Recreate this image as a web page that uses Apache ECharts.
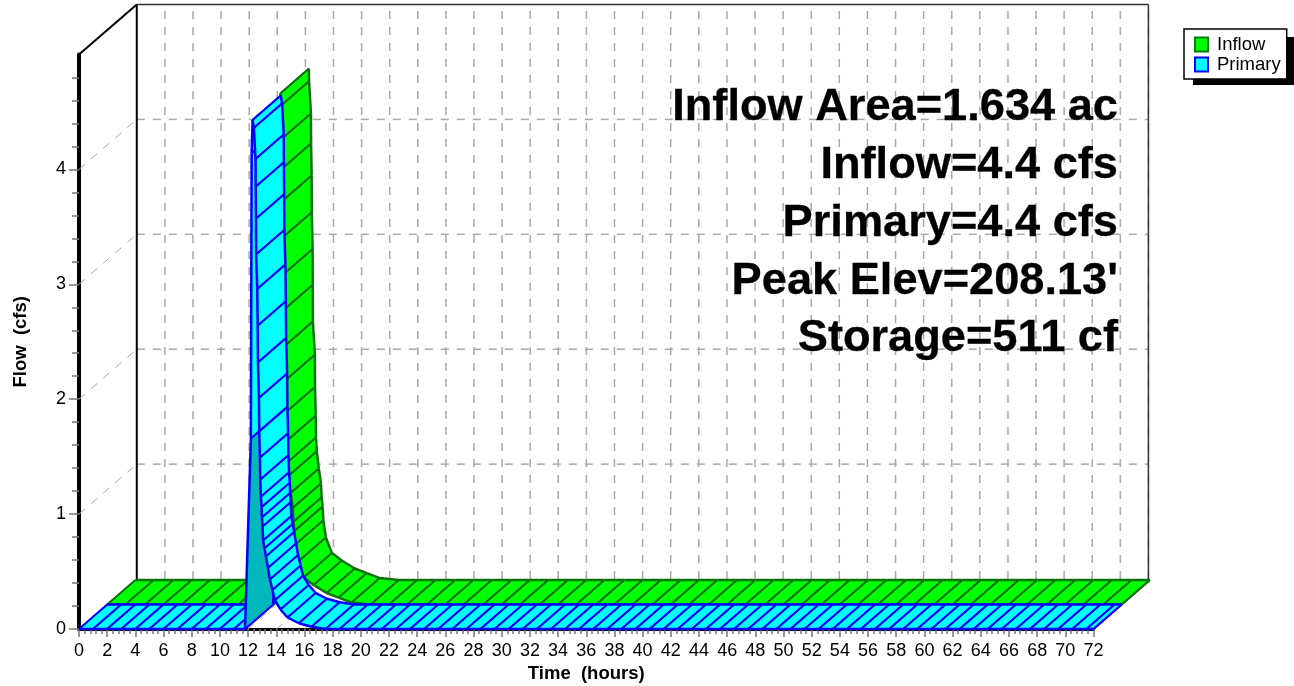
<!DOCTYPE html>
<html>
<head>
<meta charset="utf-8">
<style>
  html, body { margin: 0; padding: 0; background: #fff; }
  #main { width: 1294px; height: 686px; }
</style>
<script src="https://cdn.jsdelivr.net/npm/echarts@6/dist/echarts.min.js"></script>
</head>
<body>
<div id="main"></div>
<script>
var timeTicks = [0,2,4,6,8,10,12,14,16,18,20,22,24,26,28,30,32,34,36,38,40,42,44,46,48,50,52,54,56,58,60,62,64,66,68,70,72]
var flowTicks = [0,1,2,3,4]

// hydrograph vertices, each one carries a hatch line
var inflowTime = [0,1.3,2.7,4,5.3,6.7,8,9.3,10.7,11.78,12.31,12.33,12.46,12.47,12.51,12.52,12.58,12.59,12.6,12.74,12.75,12.8,12.82,12.88,13.02,13.17,13.22,13.29,13.34,13.52,13.95,14.65,15.57,16.43,17.35,18.7,20,21.3,22.7,24,25.3,26.7,28,29.3,30.7,32,33.3,34.7,36,37.3,38.7,40,41.3,42.7,44,45.3,46.7,48,49.3,50.7,52,53.3,54.7,56,57.3,58.7,60,61.3,62.7,64,65.3,66.7,68,69.3,70.7,72]
var inflowFlow = [0,0,0,0,0,0,0,0,0,0,4.45,4.34,4.06,3.8,3.52,3.2,2.88,2.57,2.25,1.96,1.68,1.43,1.24,1.12,0.97,0.84,0.72,0.64,0.52,0.37,0.235,0.17,0.1,0.06,0.017,0,0,0,0,0,0,0,0,0,0,0,0,0,0,0,0,0,0,0,0,0,0,0,0,0,0,0,0,0,0,0,0,0,0,0,0,0,0,0,0,0]
var primaryTime = [0,1,2,3,4,5,6,7,8,9,10,11,11.78,12.2,12.25,12.32,12.41,12.53,12.54,12.56,12.57,12.65,12.68,12.7,12.77,12.79,12.84,12.86,12.91,12.96,12.98,13.02,13.07,13.16,13.27,13.41,13.55,13.73,13.9,14.3,14.8,15.6,16.5,17.5,18.5,19.5,20.5,21.5,22.5,23.5,24.5,25.5,26.5,27.5,28.5,29.5,30.5,31.5,32.5,33.5,34.5,35.5,36.5,37.5,38.5,39.5,40.5,41.5,42.5,43.5,44.5,45.5,46.5,47.5,48.5,49.5,50.5,51.5,52.5,53.5,54.5,55.5,56.5,57.5,58.5,59.5,60.5,61.5,62.5,63.5,64.5,65.5,66.5,67.5,68.5,69.5,70.5,71.5,72]
var primaryFlow = [0,0,0,0,0,0,0,0,0,0,0,0,0,1.66,4.14,4.43,4.36,4.09,3.85,3.57,3.26,2.96,2.64,2.32,2.01,1.72,1.49,1.3,1.15,1.06,0.97,0.89,0.77,0.7,0.63,0.53,0.43,0.34,0.25,0.17,0.1,0.05,0.02,0,0,0,0,0,0,0,0,0,0,0,0,0,0,0,0,0,0,0,0,0,0,0,0,0,0,0,0,0,0,0,0,0,0,0,0,0,0,0,0,0,0,0,0,0,0,0,0,0,0,0,0,0,0,0,0]
var notes = ['Inflow Area=1.634 ac', 'Inflow=4.4 cfs', 'Primary=4.4 cfs', "Peak Elev=208.13'", 'Storage=511 cf']

// one step of depth, in axis units: the 3d look is just a shear of the data
var depthT = 2
var depthQ = 0.2132
var wallT = 4.1
var wallQ = 0.435
var wallStretch = 0.9972 // back wall comes out a touch narrower than the front axis

function seg(a, b, stroke, width, dash) {
  return {
    type: 'line',
    shape: { x1: a[0], y1: a[1], x2: b[0], y2: b[1] },
    style: { stroke: stroke, lineWidth: width, lineDash: dash || null, fill: null }
  }
}

function renderWall(params, api) {
  var at = function (t, q, back) {
    return back ? api.coord([t * wallStretch + wallT, q + wallQ]) : api.coord([t, q])
  }
  var grey = '#a9a9a9'
  var dash = [8, 8]
  var kids = []
  timeTicks.forEach(function (t) {
    kids.push(seg(at(t, 0, false), at(t, 0, true), grey, 1, dash))
    if (t > 0) kids.push(seg(at(t, 0, true), at(t, 5, true), grey, 1.5, dash))
  })
  flowTicks.slice(1).forEach(function (q) {
    kids.push(seg(at(0, q, false), at(0, q, true), grey, 1, dash))
    kids.push(seg(at(0, q, true), at(72, q, true), grey, 1.5, dash))
  })
  kids.push(seg(at(0, 0, true), at(0, 5, true), '#000', 2))
  kids.push(seg(at(0, 5, true), at(72, 5, true), '#333', 1.5))
  kids.push(seg(at(72, 0, true), at(72, 5, true), '#333', 1.5))
  kids.push(seg(at(0, 5, false), at(0, 5, true), '#000', 2))
  return { type: 'group', children: kids }
}

function ribbon(name, time, flow, level, fill, under, edge, edgeWidth, hatchWidth) {
  return {
    name: name,
    type: 'custom',
    coordinateSystem: 'cartesian2d',
    silent: true,
    itemStyle: { color: fill },
    data: time.map(function (t, i) { return [t, flow[i]] }),
    renderItem: function (params, api) {
      var i = params.dataIndex
      var pt = function (k, d) {
        return api.coord([time[k] + d * depthT, flow[k] + d * depthQ])
      }
      var a = pt(i, level), b = pt(i, level + 1)
      var kids = []
      if (i < time.length - 1) {
        var c = pt(i + 1, level + 1), d = pt(i + 1, level)
        kids.push({
          type: 'polygon',
          shape: { points: [a, b, c, d] },
          style: { fill: flow[i] === 0 && flow[i + 1] > 0 ? under : fill }
        })
        kids.push(seg(a, d, edge, edgeWidth))
        kids.push(seg(b, c, edge, edgeWidth))
        kids.push(seg(d, c, edge, hatchWidth))
      }
      kids.push(seg(a, b, edge, hatchWidth))
      return { type: 'group', children: kids }
    }
  }
}

var noteItems = notes.map(function (text, i) {
  return {
    type: 'text',
    z: 20,
    silent: true,
    x: 1118,
    y: 108 + 57.75 * i,
    style: {
      text: text,
      fill: '#000',
      stroke: '#000',
      lineWidth: 0.3,
      align: 'right',
      verticalAlign: 'middle',
      font: 'bold 45.2px "Liberation Sans", Arial, sans-serif'
    }
  }
})
// legend's drop shadow, a plain block sitting behind the legend box
noteItems.push({
  type: 'rect',
  z: 0,
  silent: true,
  shape: { x: 1193, y: 37, width: 101, height: 48 },
  style: { fill: '#000' }
})

var chart = echarts.init(document.getElementById('main'))
chart.setOption({
  animation: false,
  backgroundColor: '#fff',
  textStyle: { fontFamily: '"Liberation Sans", Arial, sans-serif' },
  grid: { left: 79, top: 54.5, width: 1014.5, height: 574.5, outerBoundsMode: 'none' },
  xAxis: {
    type: 'value',
    min: 0,
    max: 72,
    interval: 2,
    name: 'Time  (hours)',
    nameLocation: 'middle',
    nameGap: 34,
    nameTextStyle: { fontSize: 18.5, fontWeight: 'bold', color: '#000' },
    axisLine: { onZero: false, lineStyle: { color: '#000', width: 3 } },
    axisTick: { length: 8, customValues: timeTicks, lineStyle: { color: '#777', width: 1.5 } },
    minorTick: { show: true, splitNumber: 5, length: 5, lineStyle: { color: '#777', width: 1.5 } },
    axisLabel: { customValues: timeTicks, fontSize: 18, color: '#000', margin: 13, hideOverlap: false },
    splitLine: { show: false }
  },
  yAxis: {
    type: 'value',
    min: 0,
    max: 5,
    interval: 1,
    name: 'Flow  (cfs)',
    nameLocation: 'middle',
    nameGap: 49,
    nameTextStyle: { fontSize: 18.5, fontWeight: 'bold', color: '#000' },
    axisLine: { onZero: false, lineStyle: { color: '#000', width: 4 } },
    axisTick: { length: 10, customValues: flowTicks, lineStyle: { color: '#777', width: 1.5 } },
    minorTick: { show: true, splitNumber: 5, length: 7, lineStyle: { color: '#777', width: 1.5 } },
    axisLabel: { customValues: flowTicks, fontSize: 18, color: '#000', margin: 13 },
    splitLine: { show: false }
  },
  legend: {
    orient: 'vertical',
    left: 1184,
    top: 29,
    padding: [6, 6, 5, 10],
    itemWidth: 13,
    itemHeight: 14,
    itemGap: 1,
    selectedMode: false,
    backgroundColor: '#fff',
    borderColor: '#000',
    borderWidth: 1.5,
    textStyle: { fontSize: 18.5, color: '#000', padding: [0, 0, 0, 4] },
    data: [
      { name: 'Inflow', icon: 'rect', itemStyle: { color: '#00ff00', borderColor: '#0a7f0a', borderWidth: 2 } },
      { name: 'Primary', icon: 'rect', itemStyle: { color: '#00ffff', borderColor: '#0000ff', borderWidth: 2 } }
    ]
  },
  graphic: noteItems,
  series: [
    { type: 'custom', coordinateSystem: 'cartesian2d', silent: true, data: [0], renderItem: renderWall },
    ribbon('Inflow', inflowTime, inflowFlow, 1, '#00ff00', '#009000', '#0c720c', 2.5, 2),
    ribbon('Primary', primaryTime, primaryFlow, 0, '#00ffff', '#00b7bb', '#0000ff', 2.5, 2)
  ]
})
</script>
</body>
</html>
